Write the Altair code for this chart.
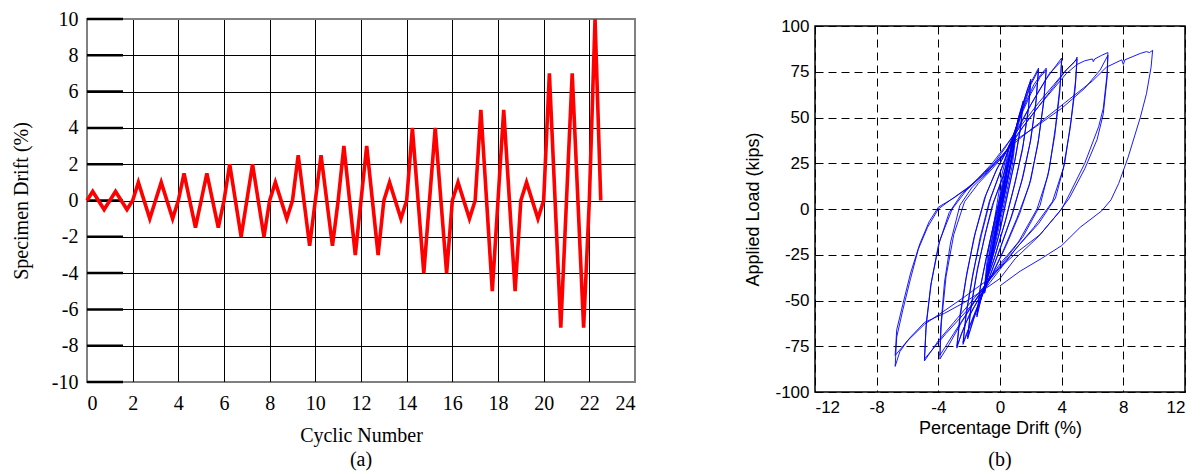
import altair as alt
import pandas as pd

# ---------------- Panel (a): loading protocol ----------------
cyc_number = [0, 0.25, 0.75, 1, 1.25, 1.75, 2, 2.25, 2.75, 3, 3.25, 3.75,
              4, 4.25, 4.75, 5, 5.25, 5.75, 6, 6.25, 6.75, 7, 7.25, 7.75,
              8, 8.25, 8.75, 9, 9.25, 9.75, 10, 10.25, 10.75, 11, 11.25, 11.75,
              12, 12.25, 12.75, 13, 13.25, 13.75, 14, 14.25, 14.75, 15, 15.25, 15.75,
              16, 16.25, 16.75, 17, 17.25, 17.75, 18, 18.25, 18.75, 19, 19.25, 19.75,
              20, 20.25, 20.75, 21, 21.25, 21.75, 22, 22.25, 22.5]
cyc_drift = [0, 0.5, -0.5, 0, 0.5, -0.5, 0, 1, -1, 0, 1, -1,
             0, 1.5, -1.5, 0, 1.5, -1.5, 0, 2, -2, 0, 2, -2,
             0, 1, -1, 0, 2.5, -2.5, 0, 2.5, -2.5, 0, 3, -3,
             0, 3, -3, 0, 1, -1, 0, 4, -4, 0, 4, -4,
             0, 1, -1, 0, 5, -5, 0, 5, -5, 0, 1, -1,
             0, 7, -7, 0, 7, -7, 0, 10, 0]
a_x_ticks = [0, 2, 4, 6, 8, 10, 12, 14, 16, 18, 20, 22, 24]
a_y_ticks = [-10, -8, -6, -4, -2, 0, 2, 4, 6, 8, 10]

# ---------------- Panel (b): hysteresis (drift %, load kips) ----------------
h_c01 = [(0, 0), (0.25, 11), (0.5, 24), (0.35, 15), (0.1, 3), (-0.2, -9), (-0.5, -23), (-0.35, -14), (-0.1, -2)]
h_c02 = [(0.2, 9), (0.5, 25), (0.34, 15), (0.05, 1), (-0.25, -11), (-0.5, -24), (-0.33, -14), (-0.05, 0)]
h_c03 = [(0.4, 18), (0.8, 34), (1.0, 42), (0.8, 30), (0.4, 14), (0.0, -2), (-0.5, -22), (-1.0, -45), (-0.8, -34), (-0.4, -18), (0.0, -1)]
h_c04 = [(0.5, 22), (1.0, 43), (0.75, 29), (0.3, 10), (-0.3, -15), (-1.0, -46), (-0.75, -32), (-0.3, -12)]
h_c05 = [(0.3, 14), (0.8, 35), (1.2, 50), (1.5, 58), (1.35, 45), (1.0, 28), (0.5, 8), (0.0, -12), (-0.6, -30),
         (-1.1, -45), (-1.5, -58), (-1.3, -44), (-0.9, -27), (-0.4, -8)]
h_c06 = [(0.2, 12), (0.7, 32), (1.2, 50), (1.5, 59), (1.32, 44), (0.95, 26), (0.4, 5), (-0.1, -15), (-0.7, -33),
         (-1.2, -48), (-1.5, -59), (-1.28, -43), (-0.85, -25), (-0.35, -6)]
h_c07 = [(0.2, 14), (0.8, 36), (1.4, 55), (1.8, 66), (2.0, 70), (1.85, 55), (1.5, 35), (1.0, 15), (0.4, -5),
         (-0.3, -25), (-1.0, -42), (-1.6, -57), (-2.1, -70), (-1.9, -55), (-1.5, -35), (-1.0, -15), (-0.5, 2)]
h_c08 = [(0.2, 18), (0.8, 37), (1.4, 55), (2.0, 71), (1.83, 54), (1.45, 32), (0.9, 12), (0.3, -8), (-0.4, -28),
         (-1.1, -45), (-1.7, -60), (-2.1, -71), (-1.88, -53), (-1.45, -32), (-0.9, -12), (-0.4, 4)]
h_c09 = [(0.3, 20), (0.7, 32), (1.0, 40), (0.7, 25), (0.3, 8), (-0.2, -12), (-0.6, -28), (-1.0, -42), (-0.7, -28), (-0.3, -10)]
h_c10 = [(0.3, 17), (0.9, 38), (1.5, 55), (2.0, 68), (2.5, 76), (2.35, 60), (2.0, 38), (1.5, 18), (0.8, -3),
         (0.0, -22), (-0.8, -40), (-1.5, -55), (-2.0, -65), (-2.4, -74), (-2.2, -58), (-1.8, -38), (-1.3, -16), (-0.7, 4)]
h_c11 = [(0.0, 20), (0.7, 36), (1.4, 54), (2.0, 69), (2.5, 77), (2.33, 58), (1.95, 36), (1.4, 15), (0.7, -5),
         (-0.1, -24), (-0.9, -42), (-1.6, -56), (-2.4, -73), (-2.18, -56), (-1.75, -35), (-1.2, -14), (-0.6, 6)]
h_c12 = [(0.1, 22), (0.8, 38), (1.5, 55), (2.2, 68), (2.7, 74), (3.0, 77), (2.85, 60), (2.5, 38), (2.0, 16),
         (1.3, -2), (0.4, -20), (-0.5, -36), (-1.3, -48), (-2.0, -58), (-2.5, -68), (-2.8, -76), (-2.6, -60),
         (-2.2, -38), (-1.7, -16), (-1.0, 6), (-0.3, 20)]
h_c13 = [(0.6, 35), (1.3, 50), (2.0, 63), (2.6, 72), (3.0, 76), (2.83, 58), (2.45, 35), (1.9, 13), (1.1, -5),
         (0.2, -23), (-0.7, -39), (-1.5, -51), (-2.2, -62), (-2.8, -75), (-2.58, -57), (-2.15, -35), (-1.6, -13),
         (-0.9, 8), (-0.2, 22)]
h_c14 = [(0.4, 31), (1.0, 40), (0.75, 26), (0.35, 10), (-0.2, -12), (-0.6, -29), (-1.0, -43), (-0.75, -27), (-0.35, -8), (0.1, 12)]
h_c15 = [(0.6, 34), (1.2, 44), (2.0, 57), (3.0, 71), (3.6, 78), (4.0, 82.5), (3.9, 68), (3.6, 45), (3.2, 22),
         (2.6, 2), (1.5, -15), (0.3, -28), (-0.8, -40), (-1.6, -50), (-2.5, -62), (-3.3, -74), (-3.9, -82),
         (-3.85, -65), (-3.6, -40), (-3.2, -18), (-2.6, 2), (-1.8, 12), (-0.8, 20)]
h_c16 = [(0.3, 33), (1.2, 45), (2.2, 60), (3.2, 74), (4.0, 81), (3.88, 64), (3.55, 40), (3.1, 18), (2.4, 0),
         (1.2, -18), (0.0, -30), (-1.0, -42), (-2.0, -55), (-3.0, -68), (-3.9, -80), (-3.8, -62), (-3.5, -37),
         (-3.0, -14), (-2.3, 4), (-1.4, 14), (-0.5, 22)]
h_c17 = [(0.3, 30), (1.0, 41), (0.8, 28), (0.4, 12), (-0.2, -12), (-0.6, -28), (-1.0, -44), (-0.8, -30), (-0.4, -12), (0.0, 5), (0.4, 20)]
h_c18 = [(0.8, 36), (1.5, 45), (2.5, 56), (3.5, 67), (4.3, 76), (4.8, 80), (4.95, 82), (5.0, 83), (4.9, 70),
         (4.6, 48), (4.2, 25), (3.6, 6), (2.5, -8), (1.2, -20), (0.0, -32), (-1.0, -42), (-2.0, -52), (-3.0, -62),
         (-4.0, -72), (-4.9, -83), (-4.8, -65), (-4.5, -42), (-4.0, -20), (-3.3, -2), (-2.5, 8), (-1.5, 16), (-0.5, 25)]
h_c19 = [(0.5, 36), (1.5, 47), (2.5, 58), (3.5, 68), (4.3, 76), (5.0, 82), (4.88, 66), (4.55, 44), (4.1, 22),
         (3.4, 4), (2.2, -10), (1.0, -22), (0.0, -33), (-1.0, -44), (-2.2, -56), (-3.5, -68), (-4.9, -82),
         (-4.78, -62), (-4.45, -40), (-3.9, -17), (-3.1, 0), (-2.2, 10), (-1.2, 18)]
h_c20 = [(-0.3, 25), (0.5, 33), (1.0, 38), (0.8, 24), (0.4, 8), (-0.2, -15), (-0.6, -30), (-1.0, -42), (-0.8, -25), (-0.4, -8), (0.1, 18)]
h_c21 = [(0.6, 35), (1.5, 45), (2.5, 56), (3.5, 66), (4.3, 74), (5.0, 79), (5.5, 81), (6.0, 82), (6.05, 80.5),
         (6.15, 82), (6.6, 84), (7.0, 85.5), (6.95, 74), (6.7, 55), (6.4, 45), (5.5, 25), (4.5, 8), (4.0, 0),
         (2.6, -14), (1.2, -23), (0.0, -32), (-1.0, -40), (-2.3, -48), (-3.5, -55), (-4.9, -63), (-6.0, -72),
         (-6.5, -78), (-6.8, -86), (-6.7, -70), (-6.3, -55), (-5.8, -38), (-5.3, -22), (-4.7, -10), (-4.0, 0),
         (-3.2, 5), (-2.2, 11), (-1.0, 19), (0.0, 27), (0.9, 37)]
h_c22 = [(2.5, 46), (4.0, 55), (5.5, 66), (6.5, 76), (7.0, 84), (6.95, 72), (6.7, 52), (6.3, 38), (5.5, 22),
         (4.5, 6), (3.8, -2), (2.5, -15), (1.0, -27), (0.0, -38), (-1.2, -45), (-2.3, -51), (-3.6, -57),
         (-4.9, -62), (-5.8, -70), (-6.8, -80), (-6.7, -66), (-6.3, -52), (-5.8, -35), (-5.2, -19), (-4.6, -7),
         (-4.0, 1), (-3.0, 6), (-2.0, 12), (-1.0, 20), (0.0, 28), (0.8, 35)]
h_c23 = [(1.5, 40), (3.0, 50), (4.5, 60), (6.0, 70), (6.9, 77.5), (7.9, 81.5), (8.0, 79), (8.1, 81.5), (9.1, 85),
         (9.5, 86), (9.7, 85.5), (9.9, 86.7), (9.8, 77.5), (9.5, 63), (9.1, 50), (8.3, 28), (7.7, 14), (7.2, 5),
         (6.6, -1), (5.2, -10), (4.0, -20), (2.7, -27), (1.3, -34), (0.0, -42)]
hyst_cycles = [h_c01, h_c02, h_c03, h_c04, h_c05, h_c06, h_c07, h_c08, h_c09, h_c10, h_c11, h_c12,
               h_c13, h_c14, h_c15, h_c16, h_c17, h_c18, h_c19, h_c20, h_c21, h_c22, h_c23]
b_x_ticks = [-12, -8, -4, 0, 4, 8, 12]
b_y_ticks = [-100, -75, -50, -25, 0, 25, 50, 75, 100]

# ---------------- build tables ----------------
a_df = pd.DataFrame({"n": cyc_number, "d": cyc_drift, "i": list(range(len(cyc_number)))})
a_ticks_df = pd.DataFrame({"d": a_y_ticks})

rows = []
for seg in hyst_cycles:
    for dr, ld in seg:
        rows.append({"drift": dr, "load": ld, "i": len(rows)})
b_df = pd.DataFrame(rows)

SERIF = "Liberation Serif"
SANS = "Liberation Sans"
PLAIN = "'' + datum.value"


def a_yaxis():
    return alt.Axis(values=a_y_ticks, title="Specimen Drift (%)", grid=True, labelExpr=PLAIN, labelOverlap=False,
                    gridColor={"condition": {"test": "datum.value == 10 || datum.value == -10", "value": "#808080"},
                               "value": "black"},
                    gridWidth=1, domain=False, ticks=False, tickSize=0,
                    labelFont=SERIF, labelFontSize=20, labelColor="black", labelPadding=9,
                    titleFont=SERIF, titleFontSize=20, titleFontWeight="normal", titleColor="black", titlePadding=20)


a_xaxis = alt.Axis(values=a_x_ticks, title="Cyclic Number", grid=True, labelExpr=PLAIN, labelOverlap=False,
                   gridColor={"condition": {"test": "datum.value == 0 || datum.value == 24", "value": "#808080"}, "value": "black"},
                   gridWidth=1, domain=False, ticks=False, tickSize=0,
                   labelFont=SERIF, labelFontSize=20, labelColor="black", labelPadding=11,
                   titleFont=SERIF, titleFontSize=20, titleFontWeight="normal", titleColor="black", titlePadding=12)
a_yscale = alt.Scale(domain=[-10, 10], nice=False)

a_marks = alt.Chart(a_ticks_df).mark_rule(color="black", strokeWidth=2.5).encode(
    y=alt.Y("d:Q", scale=a_yscale, axis=a_yaxis()), x=alt.value(0), x2=alt.value(36)
)
a_line = alt.Chart(a_df).mark_line(color="#ff0000", strokeWidth=3.6, strokeJoin="miter").encode(
    x=alt.X("n:Q", scale=alt.Scale(domain=[0, 24], nice=False), axis=a_xaxis),
    y=alt.Y("d:Q", scale=a_yscale, axis=a_yaxis()),
    order="i:Q",
)
panel_a = alt.layer(a_marks, a_line).properties(
    width=548, height=363,
    view=alt.ViewBackground(stroke="#808080", strokeWidth=2),
    title=alt.TitleParams("(a)", orient="bottom", font=SERIF, fontSize=20, fontWeight="normal", color="black", offset=5),
)

b_xaxis = alt.Axis(values=b_x_ticks, title="Percentage Drift (%)", grid=True, gridColor="black", gridDash=[8, 5],
                   labelExpr=PLAIN, labelOverlap=False,
                   gridWidth=1, domain=False, ticks=False, tickSize=0,
                   labelFont=SANS, labelFontSize=17, labelColor="black", labelPadding=7,
                   titleFont=SANS, titleFontSize=18, titleFontWeight="normal", titleColor="black", titlePadding=4)
b_yaxis = alt.Axis(values=b_y_ticks, title="Applied Load (kips)", grid=True, gridColor="black", gridDash=[8, 5],
                   labelExpr=PLAIN, labelOverlap=False,
                   gridWidth=1, domain=False, ticks=False, tickSize=0,
                   labelFont=SANS, labelFontSize=17, labelColor="black", labelPadding=6,
                   titleFont=SANS, titleFontSize=18, titleFontWeight="normal", titleColor="black", titlePadding=12)

b_line = alt.Chart(b_df).mark_line(color="#0000ff", strokeWidth=0.9).encode(
    x=alt.X("drift:Q", scale=alt.Scale(domain=[-12, 12], nice=False), axis=b_xaxis),
    y=alt.Y("load:Q", scale=alt.Scale(domain=[-100, 100], nice=False), axis=b_yaxis),
    order="i:Q",
)
panel_b = b_line.properties(
    width=370, height=366,
    view=alt.ViewBackground(stroke="black", strokeWidth=1.5),
    title=alt.TitleParams("(b)", orient="bottom", font=SERIF, fontSize=20, fontWeight="normal", color="black", offset=13),
)
b_spacer = alt.Chart(pd.DataFrame({"t": [0]})).mark_point(opacity=0).properties(
    width=370, height=1, view=alt.ViewBackground(stroke="transparent")
)
right_col = alt.vconcat(b_spacer, panel_b, spacing=-7)

chart = alt.hconcat(panel_a, right_col, spacing=108).properties(
    padding={"left": 2, "top": 0, "right": 0, "bottom": 0},
    background="white",
)

chart.save("out.html", embed_options={"renderer": "svg", "actions": False})
